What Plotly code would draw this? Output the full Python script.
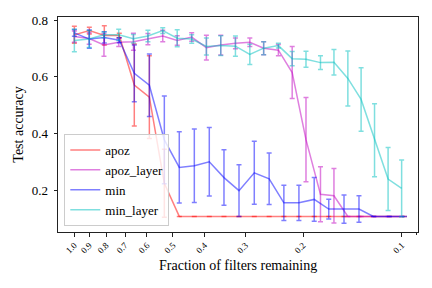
import plotly.graph_objects as go

# Fraction of filters remaining (global pruning: apoz, min)
global_x = [1.0, 0.9, 0.81, 0.729, 0.656, 0.59, 0.531, 0.478, 0.43, 0.387, 0.349, 0.314,
            0.282, 0.254, 0.229, 0.206, 0.185, 0.167, 0.15, 0.135, 0.122, 0.109, 0.098]
# Fraction of filters remaining (layer-wise pruning: apoz_layer, min_layer)
layer_x = [1.0, 0.901, 0.812, 0.732, 0.660, 0.596, 0.537, 0.485, 0.438, 0.395, 0.357, 0.322,
           0.291, 0.264, 0.238, 0.216, 0.196, 0.177, 0.161, 0.146, 0.133, 0.121, 0.110, 0.100]

apoz_y = [0.748, 0.763, 0.746, 0.746, 0.571, 0.528, 0.224, 0.107, 0.107, 0.107, 0.107, 0.107,
          0.107, 0.107, 0.107, 0.107, 0.107, 0.107, 0.107, 0.107, 0.107, 0.107, 0.107]
apoz_err = [0.03, 0.012, 0.034, 0.008, 0.145, 0.146, 0.12, 0, 0, 0, 0, 0,
            0, 0, 0, 0, 0, 0, 0, 0, 0, 0, 0]

apoz_layer_y = [0.742, 0.735, 0.712, 0.722, 0.724, 0.733, 0.744, 0.728, 0.740, 0.703, 0.712, 0.718,
                0.722, 0.701, 0.694, 0.615, 0.378, 0.185, 0.180, 0.107, 0.107, 0.107, 0.107, 0.107]
apoz_layer_err = [0.02, 0.02, 0.04, 0.015, 0.03, 0.02, 0.02, 0.017, 0.015, 0.044, 0.035, 0.019,
                  0.015, 0.023, 0.02, 0.092, 0.149, 0.097, 0.096, 0, 0, 0, 0, 0]

min_y = [0.755, 0.733, 0.739, 0.729, 0.612, 0.570, 0.377, 0.280, 0.286, 0.300, 0.244, 0.198,
         0.261, 0.240, 0.155, 0.155, 0.167, 0.133, 0.133, 0.133, 0.107, 0.107, 0.107]
min_err = [0.012, 0.032, 0.02, 0.009, 0.1, 0.11, 0.155, 0.126, 0.13, 0.121, 0.098, 0.091,
           0.111, 0.091, 0.062, 0.062, 0.077, 0.035, 0.05, 0.047, 0, 0, 0]

min_layer_y = [0.728, 0.733, 0.748, 0.748, 0.734, 0.744, 0.763, 0.736, 0.733, 0.707, 0.710, 0.708,
               0.679, 0.701, 0.710, 0.664, 0.662, 0.650, 0.651, 0.594, 0.520, 0.376, 0.239, 0.206]
min_layer_err = [0.04, 0.03, 0.01, 0.02, 0.015, 0.02, 0.01, 0.03, 0.015, 0.03, 0.035, 0.036,
                 0.036, 0.023, 0.008, 0.025, 0.028, 0.024, 0.045, 0.097, 0.112, 0.129, 0.111, 0.1]

x_tick_vals = [1.0, 0.9, 0.8, 0.7, 0.6, 0.5, 0.4, 0.3, 0.2, 0.1]
x_tick_text = ["1.0", "0.9", "0.8", "0.7", "0.6", "0.5", "0.4", "0.3", "0.2", "0.1"]
y_tick_vals = [0.2, 0.4, 0.6, 0.8]
y_tick_text = ["0.2", "0.4", "0.6", "0.8"]

series = [
    ("apoz", global_x, apoz_y, apoz_err, "rgba(255,0,0,0.5)"),
    ("apoz_layer", layer_x, apoz_layer_y, apoz_layer_err, "rgba(191,0,191,0.5)"),
    ("min", global_x, min_y, min_err, "rgba(0,0,255,0.5)"),
    ("min_layer", layer_x, min_layer_y, min_layer_err, "rgba(0,191,191,0.5)"),
]

fig = go.Figure()
for name, xs, ys, es, col in series:
    fig.add_trace(go.Scatter(
        x=xs, y=ys, name=name, mode="lines",
        line=dict(color=col, width=1.5),
        error_y=dict(type="data", array=es, visible=True, color=col, thickness=1.5, width=2.5),
    ))

FONT = "Liberation Serif, Times New Roman, serif"
fig.update_layout(
    width=432, height=288,
    margin=dict(l=58, r=14, t=17, b=56),
    paper_bgcolor="white", plot_bgcolor="white",
    font=dict(family=FONT, size=12, color="black"),
    showlegend=True,
    legend=dict(
        x=0.0175, y=0.028, xanchor="left", yanchor="bottom",
        bgcolor="rgba(255,255,255,0.8)", bordercolor="rgba(204,204,204,1)", borderwidth=1,
        font=dict(family=FONT, size=13), tracegroupgap=0,
    ),
    xaxis=dict(
        type="log", range=[0.05, -1.05], automargin=False,
        tickmode="array", tickvals=x_tick_vals, ticktext=x_tick_text,
        tickangle=-45, tickfont=dict(family=FONT, size=9),
        ticks="outside", ticklen=3.5, tickwidth=1, tickcolor="#222",
        minor=dict(tickmode="array", tickvals=[0.09], ticks="outside", ticklen=2, tickcolor="#222"),
        showline=True, mirror=True, linecolor="#222", linewidth=1,
        showgrid=False, zeroline=False,
    ),
    yaxis=dict(
        range=[0.052, 0.811], automargin=False,
        tickmode="array", tickvals=y_tick_vals, ticktext=y_tick_text,
        tickfont=dict(family=FONT, size=13), ticklabelstandoff=3,
        ticks="outside", ticklen=3.5, tickwidth=1, tickcolor="#222",
        showline=True, mirror=True, linecolor="#222", linewidth=1,
        showgrid=False, zeroline=False,
        title=dict(text="Test accuracy", font=dict(family=FONT, size=14), standoff=4),
    ),
    annotations=[dict(
        text="Fraction of filters remaining", xref="paper", yref="paper",
        x=0.5, y=0, xanchor="center", yanchor="middle", yshift=-33, showarrow=False,
        font=dict(family=FONT, size=14),
    )],
)

fig.write_html("out.html", config={"displayModeBar": False},
               post_script="document.body.style.margin='0';")
